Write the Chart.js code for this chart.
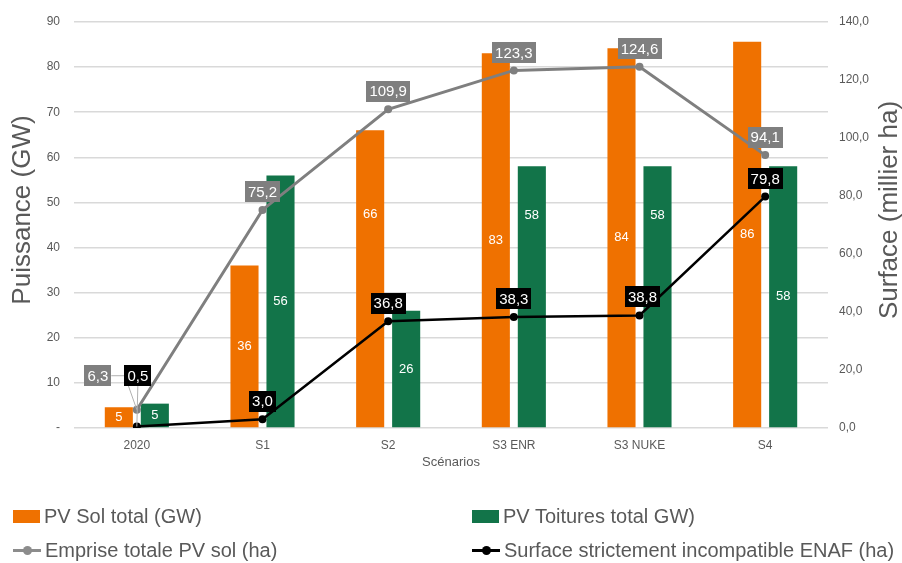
<!DOCTYPE html>
<html>
<head>
<meta charset="utf-8">
<script src="https://cdn.jsdelivr.net/npm/chart.js@4/dist/chart.umd.min.js"></script>
<style>
  html, body { margin: 0; padding: 0; background: #fff; }
  #wrap { position: relative; width: 902px; height: 563px; }
  #legend { position: absolute; left: 0; top: 0; width: 902px; height: 563px; pointer-events: none;
    font-family: "Liberation Sans", Arial, sans-serif; font-size: 20px; color: #595959; }
  .item { position: absolute; display: flex; align-items: center; white-space: nowrap; }
  .sq { width: 27px; height: 13px; margin-right: 4px; }
  .ln { position: relative; width: 28px; height: 13px; margin-right: 4px; }
  .ln i { position: absolute; left: 0; right: 0; top: 5px; height: 3px; }
  .ln b { position: absolute; left: 10px; top: 2px; width: 9px; height: 9px; border-radius: 50%; }
</style>
</head>
<body>
<div id="wrap">
  <canvas id="chart" width="902" height="563"></canvas>
  <div id="legend">
    <div class="item" style="left:13px; top:505px;"><span class="sq" style="background:#EF7100"></span>PV Sol total (GW)</div>
    <div class="item" style="left:472px; top:505px;"><span class="sq" style="background:#127449"></span>PV Toitures total GW)</div>
    <div class="item" style="left:13px; top:539px;"><span class="ln"><i style="background:#8c8c8c"></i><b style="background:#8c8c8c"></b></span>Emprise totale PV sol (ha)</div>
    <div class="item" style="left:472px; top:539px;"><span class="ln"><i style="background:#000"></i><b style="background:#000"></b></span>Surface strictement incompatible ENAF (ha)</div>
  </div>
</div>
<script>
const scenarios = ['2020', 'S1', 'S2', 'S3 ENR', 'S3 NUKE', 'S4'];
const pvSol = [4.6, 36, 66, 83.1, 84.2, 85.6];
const pvToitures = [5.4, 56, 26, 58, 58, 58];
const emprise = [6.3, 75.2, 109.9, 123.3, 124.6, 94.1];
const surfaceEnaf = [0.5, 3.0, 36.8, 38.3, 38.8, 79.8];

const ORANGE = '#EF7100';
const GREEN = '#127449';
const GREY = '#7F7F7F';
const FONT = '"Liberation Sans", Arial, sans-serif';

const fr1 = v => v.toFixed(1).replace('.', ',');

// hand-moved labels: bar labels (dy from bar middle), line labels (dx, dy from point)
const barLabelShift = {
  0: { 2: -64 },
  1: { 3: -81, 4: -81 }
};
const lineLabelShift = {
  2: { 0: [-39, -34] },
  3: { 0: [1, -51], 4: [3, -19] }
};

const labelsPlugin = {
  id: 'valueLabels',
  afterDatasetsDraw(chart) {
    const ctx = chart.ctx;
    ctx.save();
    ctx.textAlign = 'center';
    ctx.textBaseline = 'middle';
    // bar labels
    [0, 1].forEach(di => {
      const meta = chart.getDatasetMeta(di);
      ctx.font = '13px ' + FONT;
      ctx.fillStyle = '#fff';
      meta.data.forEach((bar, i) => {
        const v = chart.data.datasets[di].data[i];
        const dy = (barLabelShift[di] && barLabelShift[di][i]) || 0;
        ctx.fillText(String(Math.round(v)), bar.x, (bar.y + bar.base) / 2 + dy);
      });
    });
    // line labels, boxed above the point
    [2, 3].forEach(di => {
      const meta = chart.getDatasetMeta(di);
      const bg = di === 2 ? GREY : '#000';
      ctx.font = '15px ' + FONT;
      meta.data.forEach((pt, i) => {
        const v = chart.data.datasets[di].data[i];
        const txt = fr1(v);
        const custom = lineLabelShift[di] && lineLabelShift[di][i];
        const sh = custom || [0, -18];
        const cx = pt.x + sh[0], cy = pt.y + sh[1];
        const w = ctx.measureText(txt).width + 6, h = 21;
        if (custom && i === 0) {
          ctx.strokeStyle = '#b0b0b0';
          ctx.lineWidth = 1;
          ctx.beginPath();
          if (sh[0] < 0) {
            ctx.moveTo(cx + w / 2, cy);
            ctx.lineTo(pt.x - 12, cy);
          } else {
            ctx.moveTo(cx, cy + h / 2);
          }
          ctx.lineTo(pt.x, pt.y);
          ctx.stroke();
        }
        ctx.fillStyle = bg;
        ctx.fillRect(Math.round(cx - w / 2), Math.round(cy - h / 2), Math.round(w), h);
        ctx.fillStyle = '#fff';
        ctx.fillText(txt, cx, cy + 1);
      });
    });
    ctx.restore();
  }
};

// both axis titles read bottom-to-top, centred a bit above the plot middle
const axisTitles = {
  id: 'axisTitles',
  afterDraw(chart) {
    const ctx = chart.ctx;
    const cy = (chart.chartArea.top + chart.chartArea.bottom) / 2 - 15;
    ctx.save();
    ctx.font = '26px ' + FONT;
    ctx.fillStyle = '#595959';
    ctx.textAlign = 'center';
    ctx.textBaseline = 'middle';
    [[23, 'Puissance (GW)'], [chart.width - 12, 'Surface (millier ha)']].forEach(([x, t]) => {
      ctx.save();
      ctx.translate(x, cy);
      ctx.rotate(-Math.PI / 2);
      ctx.fillText(t, 0, 0);
      ctx.restore();
    });
    ctx.restore();
  }
};

new Chart(document.getElementById('chart'), {
  type: 'bar',
  data: {
    labels: scenarios,
    datasets: [
      { label: 'PV Sol total (GW)', data: pvSol, backgroundColor: ORANGE, yAxisID: 'y', order: 1,
        categoryPercentage: 0.573, barPercentage: 0.78 },
      { label: 'PV Toitures total GW)', data: pvToitures, backgroundColor: GREEN, yAxisID: 'y', order: 1,
        categoryPercentage: 0.573, barPercentage: 0.78 },
      { type: 'line', label: 'Emprise totale PV sol (ha)', data: emprise, yAxisID: 'y1', order: 0,
        borderColor: GREY, backgroundColor: GREY, borderWidth: 3, pointRadius: 4, pointBackgroundColor: GREY,
        pointBorderWidth: 0, tension: 0 },
      { type: 'line', label: 'Surface strictement incompatible ENAF (ha)', data: surfaceEnaf, yAxisID: 'y1', order: 0,
        borderColor: '#000', backgroundColor: '#000', borderWidth: 2.5, pointRadius: 4, pointBackgroundColor: '#000',
        pointBorderWidth: 0, tension: 0 }
    ]
  },
  options: {
    responsive: false,
    animation: false,
    layout: { padding: { left: 0, right: 0, top: 22, bottom: 85 } },
    plugins: { legend: { display: false }, tooltip: { enabled: false } },
    scales: {
      x: {
        grid: { display: false },
        border: { display: false },
        ticks: { color: '#595959', font: { family: FONT, size: 12 }, padding: 2 },
        title: { display: true, text: 'Scénarios', color: '#595959', font: { family: FONT, size: 13 }, padding: { top: 0, bottom: 8 } },
        afterFit: s => { s.height = 50; }
      },
      y: {
        position: 'left',
        min: 0, max: 90,
        grid: { color: '#d9d9d9', lineWidth: 1.5, drawTicks: false },
        border: { display: false },
        ticks: { stepSize: 10, color: '#595959', font: { family: FONT, size: 12 }, padding: 14,
          callback: v => v === 0 ? '-' : String(v) },
        afterFit: s => { s.width = 74; }
      },
      y1: {
        position: 'right',
        min: 0, max: 140,
        grid: { display: false, drawTicks: false },
        border: { display: false },
        ticks: { stepSize: 20, color: '#595959', font: { family: FONT, size: 12 }, padding: 11,
          callback: v => fr1(v) },
        afterFit: s => { s.width = 74; }
      }
    }
  },
  plugins: [labelsPlugin, axisTitles]
});
</script>
</body>
</html>
